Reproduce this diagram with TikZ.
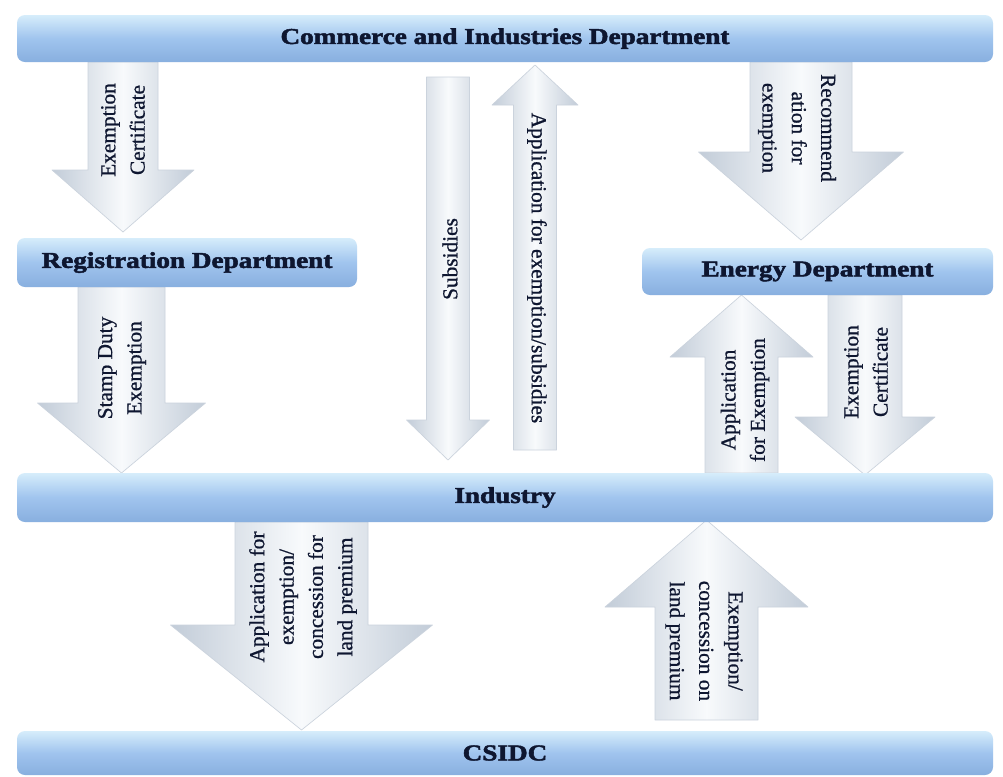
\documentclass[tikz,border=0pt]{standalone}
\usepackage{fontspec}
\usepackage{graphicx}
\setmainfont{Liberation Serif}
\newfontfamily\barfont[FakeBold=2]{Liberation Serif Bold}
\newfontfamily\labfont[FakeBold=0.8]{Liberation Serif}
\definecolor{barlight}{HTML}{D6EDFB}
\definecolor{barmid}{HTML}{A0C4EE}
\definecolor{bardark}{HTML}{88AFDF}
\definecolor{txt}{HTML}{0E1630}
\definecolor{arrowedge}{HTML}{C2CCD8}
\definecolor{arrowmid}{HTML}{F8FAFC}
\definecolor{arrowline}{HTML}{CBD3DD}
\tikzset{
  bar/.style={rounded corners=6pt, top color=barlight, bottom color=bardark, middle color=barmid,
    draw=none, inner sep=0pt, text=txt, font=\fontsize{17}{20}\selectfont\barfont},
  arrowbody/.style={left color=arrowedge, right color=arrowedge, middle color=arrowmid,
    draw=arrowline, line width=0.5pt, line join=round},
  lab/.style={font=\fontsize{16}{22}\selectfont\labfont, align=center, text=txt, inner sep=0pt},
}
% #1 centre x, #2 shaft half width, #3 head half width, #4 tail y, #5 head base y, #6 tip y
\newcommand\blockarrow[6]{%
  \path[arrowbody] ({#1-#2},#4) -- ({#1+#2},#4) -- ({#1+#2},#5) -- ({#1+#3},#5)
    -- (#1,#6) -- ({#1-#3},#5) -- ({#1-#2},#5) -- cycle;}
\newcommand\wide[1]{\scalebox{1.2}[1]{#1}}
\begin{document}
\begin{tikzpicture}[x=0.75pt,y=-0.75pt]
\useasboundingbox (0,0) rectangle (1003,776);
\fill[white] (0,0) rectangle (1003,776);
% block arrows
\blockarrow{123}{35}{71}{62}{170}{232}
\blockarrow{121.5}{43.5}{84}{287}{403}{473}
\blockarrow{448}{21.5}{41.5}{77}{420}{460}
\blockarrow{535}{21.5}{43}{450}{105}{65}
\blockarrow{801}{51}{102.5}{62}{152}{240}
\blockarrow{741.5}{36.5}{71.5}{473}{357}{295}
\blockarrow{865}{37}{70}{295}{417}{475}
\blockarrow{301.5}{66.5}{131}{522}{625}{730}
\blockarrow{706.5}{51.5}{101.5}{720}{607}{520}
% bars
\node[bar, minimum width=732pt, minimum height=35.25pt] (cid) at (505,38.5) {\wide{Commerce and Industries Department}};
\node[bar, minimum width=255pt, minimum height=36.75pt] (reg) at (187,262.5) {\wide{Registration Department}};
\node[bar, minimum width=263.25pt, minimum height=35.25pt] (energy) at (817.5,271.5) {\wide{Energy Department}};
\node[bar, minimum width=732pt, minimum height=36.75pt] (industry) at (505,497.5) {\wide{Industry}};
\node[bar, minimum width=732pt, minimum height=33pt] (csidc) at (505,753) {\wide{CSIDC}};
% arrow labels
\node[lab, rotate=90] (l1) at (123,130) {Exemption\\Certificate};
\node[lab, rotate=90] (l2) at (122,368) {Stamp Duty\\Exemption};
\node[lab, rotate=90] (l3) at (450,259) {Subsidies};
\node[lab, rotate=-90] (l4) at (537,268) {Application for exemption/subsidies};
\node[lab, rotate=-90] (l5) at (797,128) {Recommend\\ation for\\exemption};
\node[lab, rotate=90] (l6) at (745,400) {Application\\for Exemption};
\node[lab, rotate=90] (l7) at (866,372) {Exemption\\Certificate};
\node[lab, rotate=90] (l8) at (303,597) {Application for\\exemption/\\concession for\\land premium};
\node[lab, rotate=-90] (l9) at (704,641) {Exemption/\\concession on\\land premium};
\end{tikzpicture}
\end{document}
